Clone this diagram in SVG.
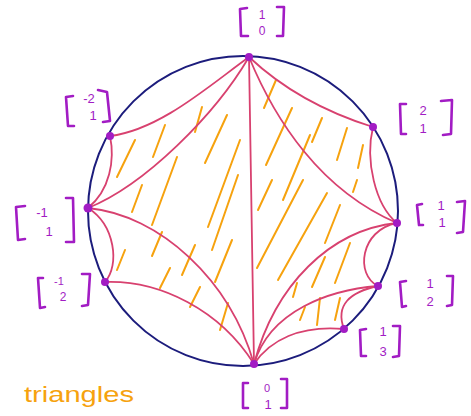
<svg xmlns="http://www.w3.org/2000/svg" width="471" height="416" viewBox="0 0 471 416">
<style>
.br{fill:none;stroke:#a21cc4;stroke-width:2.6;stroke-linecap:round;stroke-linejoin:round}
.num{font-family:"Liberation Sans",Arial,sans-serif;font-size:13px;fill:#a21cc4;text-anchor:middle}
.dot{fill:#a21cc4}
.arc{fill:none;stroke:#d8416f;stroke-width:1.8;stroke-linecap:round}
.hatch{fill:none;stroke:#f6a20e;stroke-width:2;stroke-linecap:round}
</style>
<rect width="471" height="416" fill="#fff"/>
<circle cx="243" cy="211" r="155" fill="none" stroke="#1c1c7c" stroke-width="2"/>
<g id="hatching">
<path class="hatch" d="M202,107 L195,132 M165,125 L153,157 M135,140 L117,177 M227,115 L205,163 M177,157 L152,225 M240,140 L208,227 M142,185 L132,212 M238,175 L212,250 M232,240 L215,282 M195,245 L182,275 M162,232 L152,256 M125,250 L117,270 M170,268 L160,288 M200,287 L190,307 M228,303 L220,330 M272,180 L258,210 M303,180 L257,268 M327,193 L278,280 M357,180 L353,192 M276,80 L264,108 M292,108 L266,165 M310,135 L283,200 M322,118 L312,142 M347,128 L337,160 M363,145 L358,168 M340,205 L325,243 M350,243 L335,283 M325,257 L312,287 M297,283 L293,297 M305,307 L300,320 M320,298 L317,325 M340,298 L335,320"/>
</g>
<g id="connectors">
<path class="arc" d="M249,57 Q299,104 373,127"/>
<path class="arc" d="M249,57 C275,120 320,190 397,223"/>
<path class="arc" d="M373,127 C365,160 375,205 397,223"/>
<path class="arc" d="M397,223 C360,230 355,275 378,286"/>
<path class="arc" d="M378,286 C350,292 335,305 344,329"/>
<path class="arc" d="M397,223 C330,230 275,285 254,364"/>
<path class="arc" d="M378,286 C330,290 270,310 254,364"/>
<path class="arc" d="M344,329 C300,325 270,340 254,364"/>
<path class="arc" d="M249,57 L254,364"/>
<path class="arc" d="M249,57 C210,85 160,130 110,136"/>
<path class="arc" d="M249,57 C215,115 145,185 88,208"/>
<path class="arc" d="M110,136 C115,160 110,190 88,208"/>
<path class="arc" d="M88,208 C115,225 120,265 105,282"/>
<path class="arc" d="M88,208 C160,215 230,280 254,364"/>
<path class="arc" d="M105,282 C160,280 220,310 254,364"/>
</g>
<g id="n-1-0">
<circle class="dot" cx="249" cy="57" r="4"/>
<path class="br" d="M247,8 L240,9 L241,36 L248,36 M277,7 L284,7 L283,36 L277,36"/>
<text class="num" x="262" y="19" style="font-size:12px">1</text>
<text class="num" x="262" y="35" style="font-size:12px">0</text>
</g>
<g id="n-2-1">
<circle class="dot" cx="373" cy="127" r="4"/>
<path class="br" d="M406,104 L400,104 L401,134 L406,134 M441,101 L452,100 L451,134 L443,135"/>
<text class="num" x="423" y="115">2</text>
<text class="num" x="423" y="133">1</text>
</g>
<g id="n-1-1">
<circle class="dot" cx="397" cy="223" r="4"/>
<path class="br" d="M422,204 L417,205 L419,225 L423,225 M457,202 L465,201 L463,232 L457,233"/>
<text class="num" x="441" y="210">1</text>
<text class="num" x="442" y="227">1</text>
</g>
<g id="n-1-2">
<circle class="dot" cx="378" cy="286" r="4"/>
<path class="br" d="M406,281 L400,282 L402,307 L406,306 M447,276 L453,276 L452,305 L447,306"/>
<text class="num" x="430" y="288">1</text>
<text class="num" x="430" y="306">2</text>
</g>
<g id="n-1-3">
<circle class="dot" cx="344" cy="329" r="4"/>
<path class="br" d="M366,329 L360,330 L361,356 L366,356 M393,326 L400,326 L399,356 L393,357"/>
<text class="num" x="383" y="336">1</text>
<text class="num" x="383" y="356">3</text>
</g>
<g id="n-0-1">
<circle class="dot" cx="254" cy="364" r="4"/>
<path class="br" d="M248,383 L243,383 L243,408 L248,408 M281,379 L287,379 L287,408 L281,408"/>
<text class="num" x="267" y="392" style="font-size:11px">0</text>
<text class="num" x="268" y="409">1</text>
</g>
<g id="n-m2-1">
<circle class="dot" cx="110" cy="136" r="4"/>
<path class="br" d="M73,96 L66,97 L68,126 L74,126 M98,90 L107,92 L110,121 L103,122"/>
<text class="num" x="89" y="103">-2</text>
<text class="num" x="93" y="120">1</text>
</g>
<g id="n-m1-1">
<circle class="dot" cx="88" cy="208" r="4.5"/>
<path class="br" d="M25,206 L16,207 L18,240 L25,239 M66,198 L73,198 L74,242 L66,242"/>
<text class="num" x="42" y="217">-1</text>
<text class="num" x="49" y="236">1</text>
</g>
<g id="n-m1-2">
<circle class="dot" cx="105" cy="282" r="4"/>
<path class="br" d="M43,278 L38,278 L40,308 L45,307 M82,274 L90,274 L88,305 L82,306"/>
<text class="num" x="59" y="285" style="font-size:11px">-1</text>
<text class="num" x="63" y="301" style="font-size:12px">2</text>
</g>
<text x="24" y="402" font-family="Liberation Sans, Arial, sans-serif" font-size="22" fill="#f6a20e" textLength="110" lengthAdjust="spacingAndGlyphs">triangles</text>
</svg>
